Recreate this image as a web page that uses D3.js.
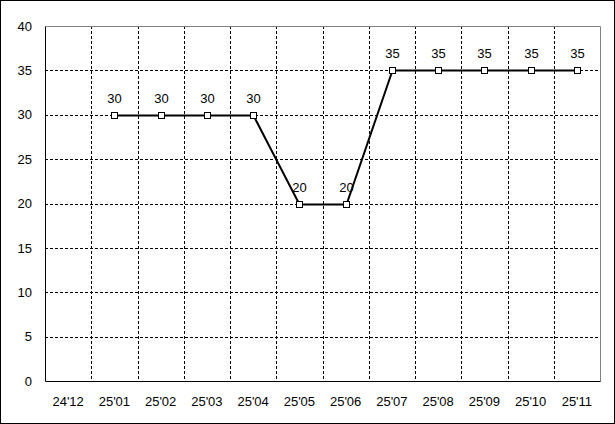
<!DOCTYPE html>
<html>
<head>
<meta charset="utf-8">
<script src="https://cdn.jsdelivr.net/npm/d3@7"></script>
<style>
  html, body { margin: 0; padding: 0; background: #fff; }
  svg { display: block; }
  text { font-family: "Liberation Sans", Arial, sans-serif; font-size: 13px; fill: #000; }
</style>
</head>
<body>
<svg id="chart" width="615" height="424"></svg>
<script>
// chart data
const months = ["24'12", "25'01", "25'02", "25'03", "25'04", "25'05", "25'06", "25'07", "25'08", "25'09", "25'10", "25'11"]
const values = [null, 30, 30, 30, 30, 20, 20, 35, 35, 35, 35, 35]
const yTicks = [0, 5, 10, 15, 20, 25, 30, 35, 40]

const W = 615, H = 424
const plotL = 45, plotR = 600, plotT = 26, plotB = 381

const svg = d3.select("#chart")
const crisp = v => Math.round(v) + 0.5

// outer frame
svg.append("rect")
    .attr("x", 0.5).attr("y", 0.5)
    .attr("width", W - 1).attr("height", H - 1)
    .attr("fill", "#fff").attr("stroke", "#000")

const x = d3.scaleBand().domain(months).range([plotL, plotR]).padding(0)
const y = d3.scaleLinear().domain([0, 40]).range([plotB, plotT])

const grid = svg.append("g")

// horizontal dashed grid
grid.selectAll("line.h")
    .data(yTicks.filter(t => t > 0 && t < 40))
    .enter().append("line")
    .attr("class", "h")
    .attr("x1", plotL).attr("x2", plotR)
    .attr("y1", d => crisp(y(d))).attr("y2", d => crisp(y(d)))
    .attr("stroke", "#000").attr("stroke-dasharray", "3,2")

// vertical dashed grid at category boundaries
grid.selectAll("line.v")
    .data(months.slice(1))
    .enter().append("line")
    .attr("class", "v")
    .attr("x1", d => crisp(x(d))).attr("x2", d => crisp(x(d)))
    .attr("y1", plotT).attr("y2", plotB)
    .attr("stroke", "#000").attr("stroke-dasharray", "3,2")

// plot border: gray top/right, black left/bottom
svg.append("path")
    .attr("d", `M${crisp(plotL)},${crisp(plotT)}H${crisp(plotR)}V${crisp(plotB)}`)
    .attr("fill", "none").attr("stroke", "#808080")
svg.append("path")
    .attr("d", `M${crisp(plotL)},${crisp(plotT)}V${crisp(plotB)}H${crisp(plotR)}`)
    .attr("fill", "none").attr("stroke", "#000")

// y tick labels
svg.selectAll("text.ytick")
    .data(yTicks)
    .enter().append("text")
    .attr("class", "ytick")
    .attr("x", 32)
    .attr("y", d => y(d))
    .attr("dy", "0.36em")
    .attr("text-anchor", "end")
    .text(d => d)

// x labels
svg.selectAll("text.xtick")
    .data(months)
    .enter().append("text")
    .attr("class", "xtick")
    .attr("x", d => x(d) + x.bandwidth() / 2)
    .attr("y", 406)
    .attr("text-anchor", "middle")
    .text(d => d)

const pts = months.map((m, i) => ({ m: m, v: values[i] })).filter(d => d.v != null)
const cx = d => Math.round(x(d.m) + x.bandwidth() / 2) + 0.5
const cy = d => crisp(y(d.v))

svg.append("path")
    .datum(pts)
    .attr("fill", "none")
    .attr("stroke", "#000")
    .attr("stroke-width", 2)
    .attr("d", d3.line().x(cx).y(cy))

svg.selectAll("rect.mark")
    .data(pts)
    .enter().append("rect")
    .attr("class", "mark")
    .attr("x", d => cx(d) - 3).attr("y", d => cy(d) - 3)
    .attr("width", 6).attr("height", 6)
    .attr("fill", "#fff").attr("stroke", "#000")

svg.selectAll("text.val")
    .data(pts)
    .enter().append("text")
    .attr("class", "val")
    .attr("x", d => cx(d))
    .attr("y", d => cy(d) - 13)
    .attr("text-anchor", "middle")
    .text(d => d.v)
</script>
</body>
</html>
